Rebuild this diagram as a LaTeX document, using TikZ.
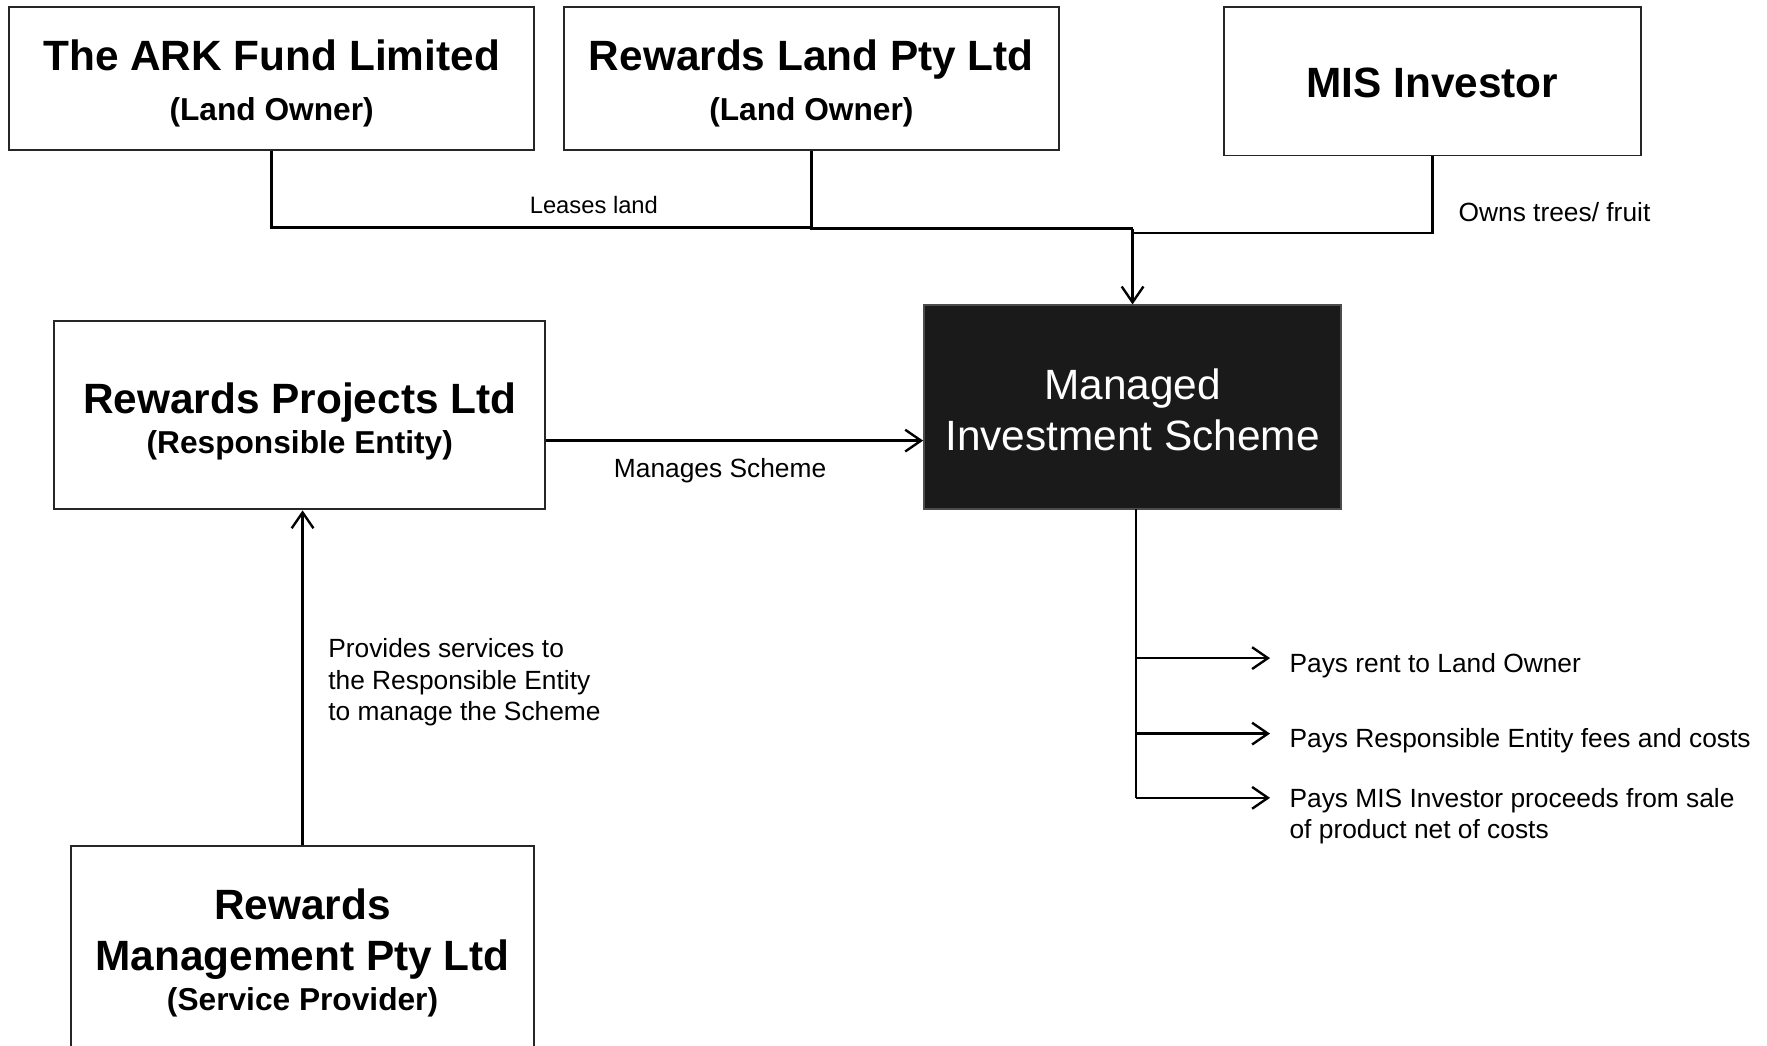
\documentclass[tikz,border=0pt]{standalone}
\usepackage{fontspec}
\setmainfont{Liberation Sans}
\usetikzlibrary{arrows.meta}
\definecolor{misfill}{RGB}{26,26,26}
\tikzset{
  box/.style={draw=black!85, line width=1pt, fill=white, inner sep=0pt},
  darkbox/.style={draw=black!70, line width=1pt, fill=misfill, inner sep=0pt},
  title/.style={font=\fontsize{21.4}{25}\selectfont\bfseries, inner sep=0pt, anchor=base},
  subtitle/.style={font=\fontsize{16}{19}\selectfont\bfseries, inner sep=0pt, anchor=base},
  bigwhite/.style={font=\fontsize{21.4}{25}\selectfont, text=white, inner sep=0pt, anchor=base},
  lbl/.style={font=\fontsize{13.3}{16}\selectfont, inner sep=0pt, anchor=base},
  lblw/.style={font=\fontsize{13.3}{16}\selectfont, inner sep=0pt, anchor=base west},
  conn/.style={line width=1.2pt},
  arr/.style={line width=1.2pt, -{Straight Barb[length=8pt,width=11pt,line width=1.2pt]}}
}
\begin{document}
\begin{tikzpicture}[x=0.02cm,y=-0.02cm]
\useasboundingbox (0,0) rectangle (1568,928);
\clip (0,0) rectangle (1568,928);
\fill[white] (0,0) rectangle (1568,928);

% boxes
\node[box, minimum width=9.32cm, minimum height=2.54cm] (ark) at (241,69.5) {};
\node[box, minimum width=8.8cm, minimum height=2.54cm] (rl) at (720,69.5) {};
\node[box, minimum width=7.4cm, minimum height=2.64cm] (misi) at (1271,72) {};
\node[darkbox, minimum width=7.4cm, minimum height=3.62cm] (mis) at (1005,361.5) {};
\node[box, minimum width=8.72cm, minimum height=3.34cm] (rp) at (266,368.5) {};
\node[box, minimum width=8.22cm, minimum height=4.18cm] (rm) at (268.5,855.5) {};

% box texts
\node[title] (arkt) at (241,62.5) {The ARK Fund Limited};
\node[subtitle] (arks) at (241,107) {(Land Owner)};
\node[title] (rlt) at (720,62.5) {Rewards Land Pty Ltd};
\node[subtitle] (rls) at (720,107) {(Land Owner)};
\node[title] (misit) at (1271,86.5) {MIS Investor};
\node[bigwhite] (mist1) at (1005,354.5) {Managed};
\node[bigwhite] (mist2) at (1005,399.5) {Investment Scheme};
\node[title] (rpt) at (266,366.5) {Rewards Projects Ltd};
\node[subtitle] (rps) at (266,402) {(Responsible Entity)};
\node[title] (rmt1) at (268.5,815.5) {Rewards};
\node[title] (rmt2) at (268.5,861.5) {Management Pty Ltd};
\node[subtitle] (rms) at (268.5,897) {(Service Provider)};

% top connectors
\coordinate (j1) at (720,202);
\coordinate (jm) at (1005,203);
\draw[conn] (ark.south) |- (j1);
\draw[line width=1.6pt] (rl.south) |- (jm);
\draw[conn] (misi.south) |- (1005,207);
\draw[arr] (jm) -- (mis.north);
\node[font=\fontsize{12}{14}\selectfont, inner sep=0pt, anchor=base] (leases) at (527,189.5) {Leases land};
\node[lblw] (owns) at (1294,196.5) {Owns trees/ fruit};

% manages
\draw[arr] (rp.east |- 0,391) -- (mis.west |- 0,391);
\node[lbl] (manages) at (639,423.5) {Manages Scheme};

% services
\draw[arr] (rm.north) -- (rm.north |- rp.south);
\node[lblw] (prov1) at (291,583.5) {Provides services to};
\node[lblw] (prov2) at (291,611.5) {the Responsible Entity};
\node[lblw] (prov3) at (291,639.5) {to manage the Scheme};

% payments
\coordinate (p0) at (1008,452);
\coordinate (p1) at (1008,584);
\coordinate (p2) at (1008,651);
\coordinate (p3) at (1008,708);
\coordinate (e1) at (1127,584);
\coordinate (e2) at (1127,651);
\coordinate (e3) at (1127,708);
\draw[conn] (p0) -- (p3);
\draw[arr] (p1) -- (e1);
\draw[arr] (p2) -- (e2);
\draw[arr] (p3) -- (e3);
\node[lblw] (pay1) at (1144,596.5) {Pays rent to Land Owner};
\node[lblw] (pay2) at (1144,663.5) {Pays Responsible Entity fees and costs};
\node[lblw] (pay3) at (1144,716.5) {Pays MIS Investor proceeds from sale};
\node[lblw] (pay4) at (1144,744.5) {of product net of costs};
\end{tikzpicture}
\end{document}
